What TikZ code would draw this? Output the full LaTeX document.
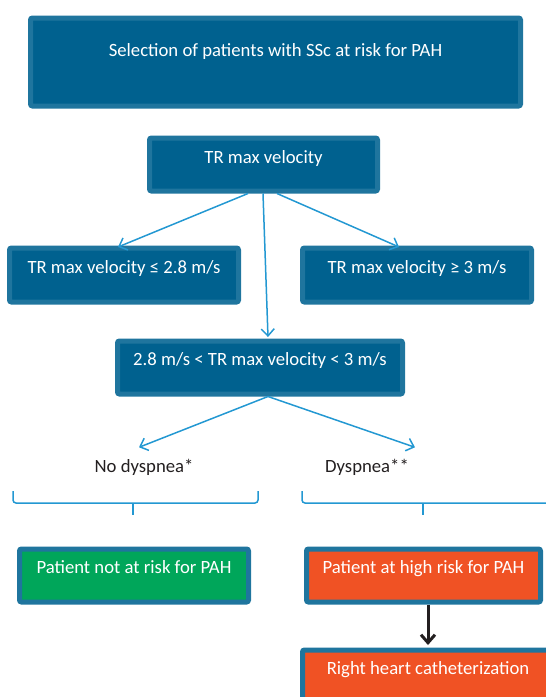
\documentclass[tikz,border=0pt]{standalone}
\usepackage{fontspec}
\setmainfont{Carlito}
\usetikzlibrary{arrows.meta,positioning}
\definecolor{boxfill}{RGB}{0,97,143}
\definecolor{boxline}{RGB}{31,117,158}
\definecolor{arrblue}{RGB}{35,152,210}
\definecolor{riskgreen}{RGB}{0,166,90}
\definecolor{riskorange}{RGB}{240,82,36}
\definecolor{darktext}{RGB}{35,31,32}

\begin{document}
\begin{tikzpicture}[x=1pt,y=-1pt]
\fontsize{18.7}{22}\selectfont
\tikzstyle{box}=[draw=boxline, fill=boxfill, line width=5pt, rounded corners=2pt, text=white, inner sep=0pt, anchor=north]
\tikzstyle{arr}=[draw=arrblue, line width=1.5pt, -{Straight Barb[length=7pt,width=13pt]}]
\tikzstyle{brace}=[draw=arrblue, line width=1.5pt, rounded corners=3pt]
\useasboundingbox (0,0) rectangle (546,697);
% boxes
\node[box, minimum width=490pt, text height=38.5pt, text depth=49.5pt] (sel) at (275.5,15.5) {Selection of patients with SSc at risk for PAH};
\node[box, minimum width=228pt, text height=25.5pt, text depth=27.5pt] (tr) at (263.5,135.5) {TR max velocity};
\node[box, minimum width=229pt, text height=25.5pt, text depth=28.5pt] (lo) at (124,245.5) {TR max velocity ≤ 2.8 m/s};
\node[box, minimum width=229pt, text height=25.5pt, text depth=28.5pt] (hi) at (417,245.5) {TR max velocity ≥ 3 m/s};
\node[box, minimum width=285pt, text height=24pt, text depth=29pt] (mid) at (260,338.5) {2.8 m/s < TR max velocity < 3 m/s};
\node[anchor=base, text=darktext] (nod) at (144,472) {No dyspnea*};
\node[anchor=base, text=darktext] (dys) at (367,472) {Dyspnea**};
\node[box, fill=riskgreen, minimum width=229pt, text height=24pt, text depth=29pt] (norisk) at (134,546.5) {Patient not at risk for PAH};
\node[box, fill=riskorange, minimum width=234pt, text height=24pt, text depth=29pt] (highrisk) at (423.5,546.5) {Patient at high risk for PAH};
\node[box, fill=riskorange, minimum width=251pt, text height=24pt, text depth=29pt] (rhc) at (428,647.5) {Right heart catheterization};
% arrows
\draw[arr] ([xshift=-15.5pt]tr.south) -- ([xshift=-6pt,yshift=-1.5pt]lo.north);
\draw[arr] ([xshift=13.5pt]tr.south) -- ([xshift=-18pt,yshift=-1.5pt]hi.north);
\draw[arr] ([xshift=-0.5pt]tr.south) -- ([xshift=8pt,yshift=1.5pt]mid.north);
\draw[arr] ([xshift=8pt]mid.south) -- ([xshift=-5pt,yshift=5pt]nod.north);
\draw[arr] ([xshift=8pt]mid.south) -- ([xshift=48pt,yshift=5pt]dys.north);
\draw[draw=darktext, line width=3pt, -{Straight Barb[length=8pt,width=14pt]}] ([xshift=4.5pt]highrisk.south) -- ([yshift=2.5pt]rhc.north);
% braces
\draw[brace] (13,491) |- (133,503) -| (258,491);
\draw[brace] (133,503) -- (133,515);
\draw[brace] (302,491) |- (423,503) -- (560,503);
\draw[brace] (423,503) -- (423,515);
\end{tikzpicture}
\end{document}
